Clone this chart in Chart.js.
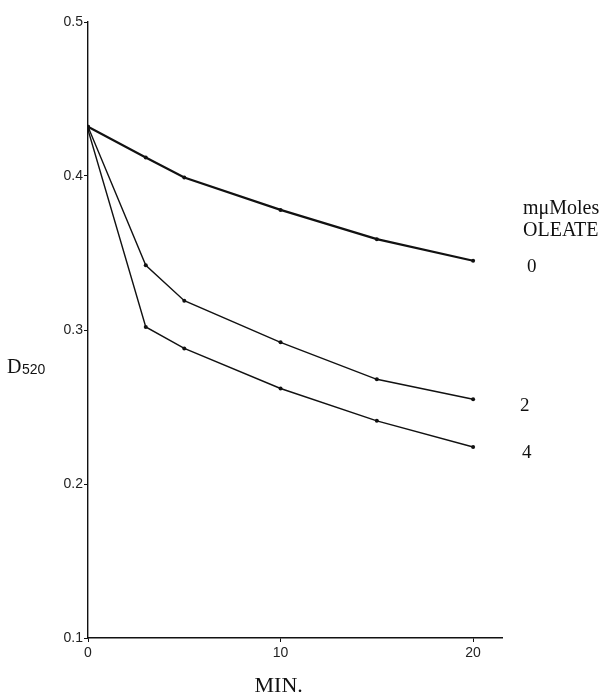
<!DOCTYPE html>
<html>
<head>
<meta charset="utf-8">
<script src="https://cdn.jsdelivr.net/npm/chart.js@4/dist/chart.umd.min.js"></script>
<style>
  html, body { margin: 0; padding: 0; background: #fff; }
  #wrap { width: 612px; height: 694px; position: relative; }
</style>
</head>
<body>
<div id="wrap"><canvas id="chart"></canvas></div>
<script>
// time in minutes
const minutes = [0, 3, 5, 10, 15, 20];
// D520 readings for each amount of oleate (mμMoles)
const oleate0 = [0.432, 0.412, 0.399, 0.378, 0.359, 0.345];
const oleate2 = [0.432, 0.342, 0.319, 0.292, 0.268, 0.255];
const oleate4 = [0.430, 0.302, 0.288, 0.262, 0.241, 0.224];
const seriesLabels = ['0', '2', '4'];
const xTicks = [0, 10, 20];
const yTicks = [0.1, 0.2, 0.3, 0.4, 0.5];

const sansNarrow = '"Liberation Sans Narrow", "Liberation Sans", sans-serif';

function toPoints(values) {
    return values.map((v, i) => ({ x: minutes[i], y: v }));
}

// draws the axis title, x label and the series labels at the right
const labelsPlugin = {
    id: 'labels',
    afterDraw(chart) {
        const ctx = chart.ctx;
        const x = chart.scales.x;
        const y = chart.scales.y;
        ctx.save();
        ctx.fillStyle = '#111';
        ctx.textBaseline = 'alphabetic';

        // y axis title D520
        ctx.font = '20px "Liberation Serif", serif';
        ctx.textAlign = 'left';
        ctx.fillText('D', 7, 373);
        ctx.font = '14px ' + sansNarrow;
        ctx.fillText('520', 22, 374);

        // x axis title
        ctx.font = '22px "Liberation Serif", serif';
        ctx.textAlign = 'center';
        ctx.fillText('MIN.', x.getPixelForValue(9.9), 692);

        // series labels
        ctx.font = '20px "Liberation Serif", serif';
        ctx.textAlign = 'left';
        ctx.fillText('m\u03bcMoles', 523, 214);
        ctx.fillText('OLEATE', 523, 236);
        ctx.font = '19px "Liberation Serif", serif';
        const last = minutes.length - 1;
        const ends = [oleate0[last], oleate2[last], oleate4[last]];
        const offs = [11, 12, 11];
        const xs = [527, 520, 522];
        seriesLabels.forEach((s, i) => {
            ctx.fillText(s, xs[i], y.getPixelForValue(ends[i]) + offs[i]);
        });
        ctx.restore();
    }
};

const ctx = document.getElementById('chart').getContext('2d');
const lineStyle = {
    borderColor: '#111',
    backgroundColor: '#111',
    pointRadius: 2,
    pointBorderWidth: 0,
    tension: 0,
    fill: false
};

new Chart(ctx, {
    type: 'line',
    data: {
        datasets: [
            Object.assign({ label: seriesLabels[0], data: toPoints(oleate0), borderWidth: 2.2 }, lineStyle),
            Object.assign({ label: seriesLabels[1], data: toPoints(oleate2), borderWidth: 1.4 }, lineStyle),
            Object.assign({ label: seriesLabels[2], data: toPoints(oleate4), borderWidth: 1.4 }, lineStyle)
        ]
    },
    options: {
        responsive: true,
        maintainAspectRatio: false,
        animation: false,
        layout: { padding: { top: 22, right: 110, bottom: 0, left: 0 } },
        plugins: {
            legend: { display: false },
            tooltip: { enabled: false }
        },
        scales: {
            x: {
                type: 'linear',
                min: 0,
                max: 21.5,
                afterBuildTicks: scale => { scale.ticks = xTicks.map(v => ({ value: v })); },
                afterFit: scale => { scale.height = 56; },
                grid: { drawOnChartArea: false, tickLength: 4, color: '#111' },
                border: { color: '#111', width: 1.4 },
                ticks: {
                    color: '#222',
                    padding: 3,
                    font: { family: sansNarrow, size: 14 },
                    maxRotation: 0
                }
            },
            y: {
                min: 0.1,
                max: 0.5,
                afterBuildTicks: scale => { scale.ticks = yTicks.map(v => ({ value: v })); },
                afterFit: scale => { scale.width = 88; },
                grid: { drawOnChartArea: false, tickLength: 4, color: '#111' },
                border: { color: '#111', width: 1.4 },
                ticks: {
                    color: '#222',
                    padding: 1,
                    font: { family: sansNarrow, size: 14 },
                    callback: v => v.toFixed(1)
                }
            }
        }
    },
    plugins: [labelsPlugin]
});
</script>
</body>
</html>
